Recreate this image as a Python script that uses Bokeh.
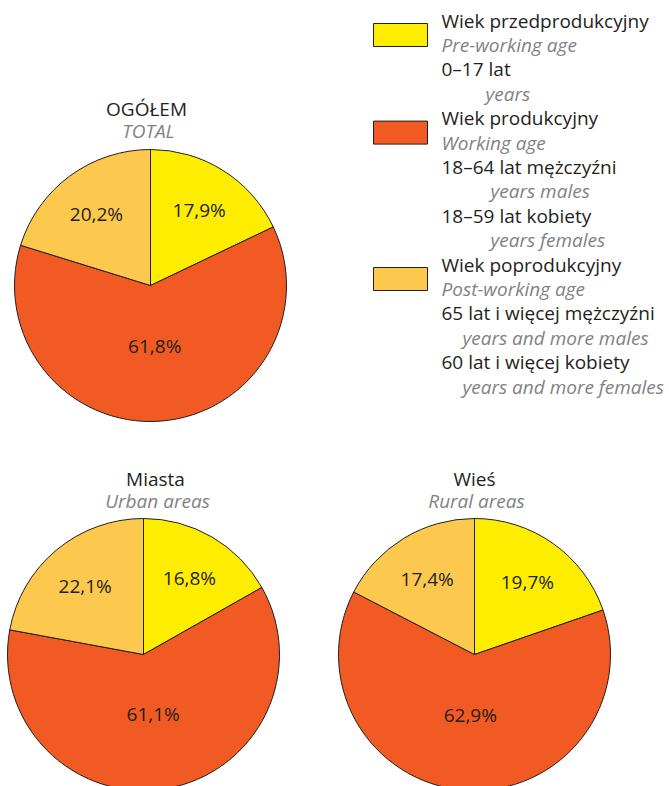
import numpy as np
from bokeh.plotting import figure
from bokeh.models import Range1d, ColumnDataSource
from bokeh.core.properties import value
from bokeh.embed import file_html
from bokeh.resources import INLINE

# ---------------- data ----------------
categories = ["Wiek przedprodukcyjny", "Wiek produkcyjny", "Wiek poprodukcyjny"]
categories_en = ["Pre-working age", "Working age", "Post-working age"]
age_pl = [["0–17 lat"],
          ["18–64 lat mężczyźni", "18–59 lat kobiety"],
          ["65 lat i więcej mężczyźni", "60 lat i więcej kobiety"]]
age_en = [["years"],
          ["years males", "years females"],
          ["years and more males", "years and more females"]]
titles_pl = ["OGÓŁEM", "Miasta", "Wieś"]
titles_en = ["TOTAL", "Urban areas", "Rural areas"]
share_total = [17.9, 61.8, 20.2]
share_urban = [16.8, 61.1, 22.1]
share_rural = [19.7, 62.9, 17.4]

# ---------------- style ----------------
colors = ["#FFED00", "#F15A22", "#FDC84E"]
DARK = "#231F20"
GRAY = "#808285"
FONT = value("Open Sans")
FS = "19px"
ADJ = -8  # text baseline correction

W, H = 669, 786
p = figure(width=W, height=H, x_range=Range1d(0, W), y_range=Range1d(-H, 0),
           output_backend="svg", toolbar_location=None, min_border=0,
           x_axis_location=None, y_axis_location=None)
p.grid.visible = False
p.outline_line_color = None
p.background_fill_color = "white"
p.border_fill_color = "white"


def txt(x, y, s, color=DARK, italic=False, align="left"):
    p.text(x=[x], y=[-(y + ADJ)], text=[s], text_font=FONT, text_font_size=FS,
           text_color=color, text_align=align, text_baseline="alphabetic",
           text_font_style="italic" if italic else "normal")


def draw_pie(cx, cy, r, shares, title_pl, title_en, tx, ty):
    fr = np.array(shares, dtype=float) / np.sum(shares)
    cum = np.concatenate([[0.0], np.cumsum(fr)])
    start = np.pi / 2 - 2 * np.pi * cum[:-1]
    end = np.pi / 2 - 2 * np.pi * cum[1:]
    src = ColumnDataSource(dict(start=start, end=end, color=colors))
    p.wedge(x=cx, y=-cy, radius=r, start_angle="start", end_angle="end",
            direction="clock", fill_color="color", line_color=DARK,
            line_width=1, source=src)
    mid = (start + end) / 2
    d = np.where(fr < 0.5, 0.67 * r, 0.43 * r)
    lx = cx + d * np.cos(mid)
    ly = cy - d * np.sin(mid) + 10 + ADJ
    labels = [f"{v:.1f}".replace(".", ",") + "%" for v in shares]
    p.text(x=lx, y=-ly, text=labels, text_font=FONT, text_font_size=FS,
           text_color=DARK, text_align="center", text_baseline="alphabetic")
    txt(tx, ty, title_pl, align="center")
    txt(tx + 2, ty + 22, title_en, color=GRAY, italic=True, align="center")


R = 136
draw_pie(150, 285, R, share_total, titles_pl[0], titles_en[0], 146, 116)
draw_pie(143, 654, R, share_urban, titles_pl[1], titles_en[1], 155, 486)
draw_pie(474, 654, R, share_rural, titles_pl[2], titles_en[2], 474, 486)

# ---------------- legend ----------------
indent = [[485], [490, 490], [462, 462]]
line = 0
TX = 441
for k in range(3):
    b0 = 28 + 24.4 * line
    p.quad(left=373, right=427, top=-(b0 - 5), bottom=-(b0 - 5 + 23),
           fill_color=colors[k], line_color=DARK, line_width=1)
    txt(TX, b0, categories[k])
    line += 1
    txt(TX, 28 + 24.4 * line, categories_en[k], color=GRAY, italic=True)
    line += 1
    for j in range(len(age_pl[k])):
        txt(TX, 28 + 24.4 * line, age_pl[k][j])
        line += 1
        txt(indent[k][j], 28 + 24.4 * line, age_en[k][j], color=GRAY, italic=True)
        line += 1

open("out.html", "w").write(file_html(p, INLINE))
